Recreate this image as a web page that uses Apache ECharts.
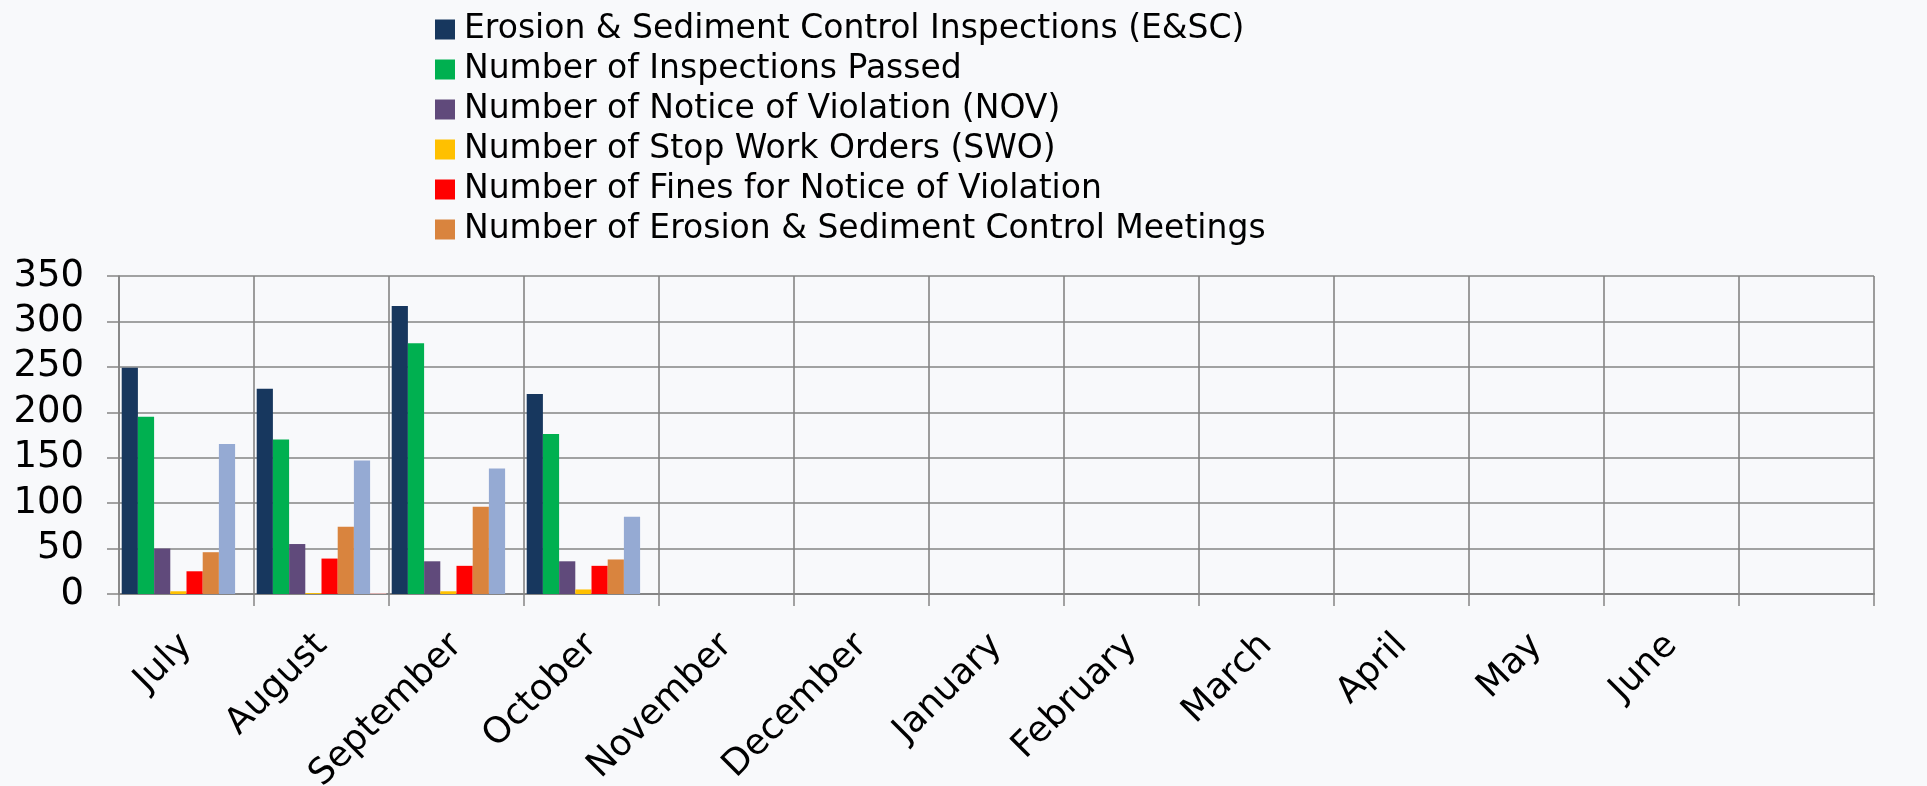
<!DOCTYPE html>
<html>
<head>
<meta charset="utf-8">
<script src="https://cdn.jsdelivr.net/npm/echarts@6/dist/echarts.min.js"></script>
<style>
  html, body { margin: 0; padding: 0; background: #f8f9fb; }
  #chart { width: 1927px; height: 786px; }
</style>
</head>
<body>
<div id="chart"></div>
<script>
const months = ['July', 'August', 'September', 'October', 'November', 'December', 'January', 'February', 'March', 'April', 'May', 'June', '']
const yTicks = { min: 0, max: 350, interval: 50 }

// values, Jul..Oct (later months empty)
const inspections = [249, 226, 317, 220]
const passed = [195, 170, 276, 176]
const violations = [50, 55, 36, 36]
const stopWork = [3, 1, 3, 5]
const fines = [25, 39, 31, 31]
const meetings = [46, 74, 96, 38]
const extraSeries = [165, 147, 138, 85]
const lastSeries = [0, 1, 0, 0]

const seriesDefs = [
  { name: 'Erosion & Sediment Control Inspections (E&SC)', data: inspections, color: '#17375e' },
  { name: 'Number of Inspections Passed', data: passed, color: '#00b050' },
  { name: 'Number of Notice of Violation (NOV)', data: violations, color: '#604a7b' },
  { name: 'Number of Stop Work Orders (SWO)', data: stopWork, color: '#ffc000' },
  { name: 'Number of Fines for Notice of Violation', data: fines, color: '#ff0000' },
  { name: 'Number of Erosion & Sediment Control Meetings', data: meetings, color: '#d9843e' },
  { name: 'Series 7', data: extraSeries, color: '#95aad3' },
  { name: 'Series 8', data: lastSeries, color: '#e6b9b8' }
]

const gridColor = '#858585'
const fontFamily = "'DejaVu Sans', Verdana, sans-serif"

const chart = echarts.init(document.getElementById('chart'))
chart.setOption({
  backgroundColor: '#f8f9fb',
  animation: false,
  legend: {
    orient: 'vertical',
    left: 430,
    top: 8,
    itemWidth: 20,
    itemHeight: 20,
    itemGap: 7,
    icon: 'rect',
    data: seriesDefs.slice(0, 6).map((s) => s.name),
    textStyle: { fontFamily, fontSize: 33, lineHeight: 32, color: '#000', padding: [0, 0, 0, 4] }
  },
  grid: { left: 119, right: 53, top: 276, bottom: 192, containLabel: false, outerBoundsMode: 'none' },
  xAxis: {
    type: 'category',
    data: months,
    axisLine: { show: true, lineStyle: { color: gridColor, width: 2 } },
    axisTick: { show: true, interval: 0, length: 12, lineStyle: { color: gridColor, width: 1.5 } },
    splitLine: { show: true, interval: 0, lineStyle: { color: gridColor, width: 1.6 } },
    axisLabel: { interval: 0, rotate: 45, margin: 46, fontFamily, fontSize: 36, color: '#000' }
  },
  yAxis: {
    type: 'value',
    min: yTicks.min,
    max: yTicks.max,
    interval: yTicks.interval,
    axisLine: { show: true, lineStyle: { color: gridColor, width: 1.6 } },
    axisTick: { show: true, length: 12, lineStyle: { color: gridColor, width: 1.5 } },
    splitLine: { show: true, lineStyle: { color: gridColor, width: 1.6 } },
    axisLabel: { margin: 35, fontFamily, fontSize: 37, color: '#000' }
  },
  series: seriesDefs.map((s) => ({
    name: s.name,
    type: 'bar',
    data: s.data,
    barGap: '0%',
    barCategoryGap: '4%',
    itemStyle: { color: s.color }
  }))
})
</script>
</body>
</html>
